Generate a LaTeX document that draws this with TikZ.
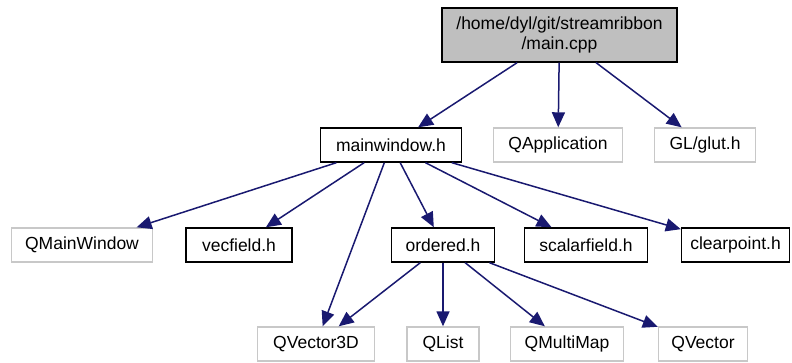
\documentclass[tikz,border=0pt]{standalone}
\usepackage{fontspec}
\setmainfont{Liberation Sans}
\usetikzlibrary{arrows.meta}
\definecolor{edgeblue}{RGB}{25,25,112}
\definecolor{rootgray}{RGB}{191,191,191}
\definecolor{extgray}{RGB}{200,200,200}

\begin{document}
\begin{tikzpicture}[x=1bp, y=-1bp,
  font=\fontsize{17.5bp}{20bp}\selectfont,
  box/.style={draw=black, line width=1.4bp, minimum height=34bp, inner sep=0pt},
  extbox/.style={draw=extgray, line width=1.4bp, minimum height=34bp, inner sep=0pt},
  rootbox/.style={draw=black, fill=rootgray, line width=1.4bp, align=center, minimum width=235bp, minimum height=54bp, inner sep=0pt},
  dep/.style={-{Triangle[length=15bp,width=13bp]}, line width=1.5bp, edgeblue}]
\useasboundingbox (0,0) rectangle (792,362);
\node[rootbox] (main) at (559.5,35) {/home/dyl/git/streamribbon\\/main.cpp};
\node[box, minimum width=141bp] (mainwindow) at (391,145) {mainwindow.h};
\node[extbox, minimum width=129bp] (qapp) at (558,145) {QApplication};
\node[extbox, minimum width=101bp] (glut) at (705,145) {GL/glut.h};
\node[extbox, minimum width=141bp] (qmainwindow) at (82,245) {QMainWindow};
\node[box, minimum width=106bp] (vecfield) at (239,245) {vecfield.h};
\node[box, minimum width=103bp] (ordered) at (443,245) {ordered.h};
\node[box, minimum width=123bp] (scalarfield) at (586,245) {scalarfield.h};
\node[box, minimum width=108bp] (clearpoint) at (735.5,245) {clearpoint.h};
\node[extbox, minimum width=117bp] (qvector3d) at (316,344) {QVector3D};
\node[extbox, minimum width=72bp] (qlist) at (443,344) {QList};
\node[extbox, minimum width=113bp] (qmultimap) at (567,344) {QMultiMap};
\node[extbox, minimum width=89bp] (qvector) at (703,344) {QVector};
\draw[dep] (main) -- (mainwindow);
\draw[dep] (main) -- (qapp);
\draw[dep] (main) -- (glut);
\draw[dep] (mainwindow) -- (qmainwindow);
\draw[dep] (mainwindow) -- (vecfield);
\draw[dep] (mainwindow) -- (qvector3d);
\draw[dep] (mainwindow) -- (ordered);
\draw[dep] (mainwindow) -- (scalarfield);
\draw[dep] (mainwindow) -- (clearpoint);
\draw[dep] (ordered) -- (qvector3d);
\draw[dep] (ordered) -- (qlist);
\draw[dep] (ordered) -- (qmultimap);
\draw[dep] (ordered) -- (qvector);
\end{tikzpicture}
\end{document}
